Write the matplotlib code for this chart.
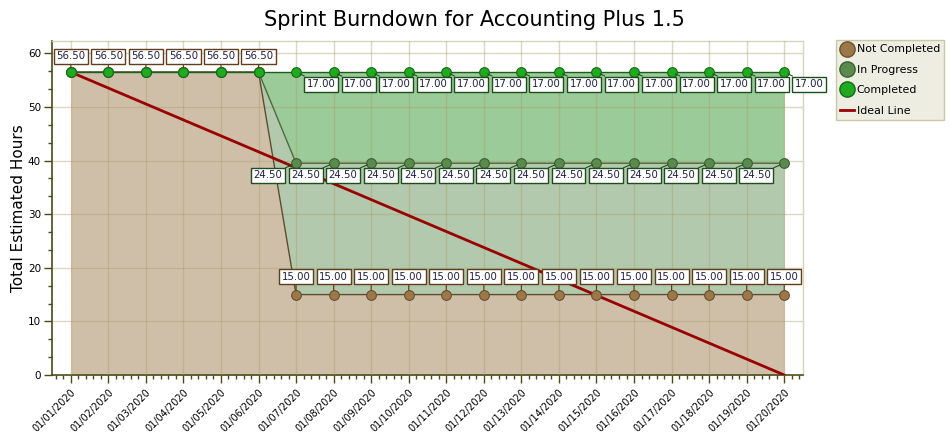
import matplotlib
matplotlib.use("Agg")
import matplotlib.pyplot as plt
from matplotlib.lines import Line2D
from matplotlib.ticker import AutoMinorLocator, MultipleLocator
import numpy as np

# sprint days
dates = ["01/%02d/2020" % d for d in range(1, 21)]

# hours per status
not_completed = [56.5] * 6 + [15.0] * 14
in_progress = [0.0] * 6 + [24.5] * 14
completed = [0.0] * 6 + [17.0] * 14

# ideal burndown (first day -> last day)
ideal_hours = [56.5, 0.0]

x = np.arange(len(dates))
nc = np.array(not_completed)
ip = nc + np.array(in_progress)
cp = ip + np.array(completed)

fig = plt.figure(figsize=(9.51, 4.40), dpi=100)
ax = fig.add_axes([52 / 951, 1 - 375 / 440, 751 / 951, 334 / 440])

ax.fill_between(x, 0, nc, color="#cfbfa9", zorder=1, lw=0)
ax.fill_between(x, nc, ip, color="#b3c9ad", zorder=1, lw=0)
ax.fill_between(x, ip, cp, color="#9acb98", zorder=1, lw=0)

ax.grid(True, which="major", color="#a89c6a", alpha=0.4, lw=1, zorder=2)
ax.set_axisbelow(False)

ax.plot(x, nc, color="#5e4a2c", lw=1, zorder=3)
ax.plot(x, ip, color="#4c6a3c", lw=1, zorder=3)
ax.plot(x, cp, color="#1d5e1d", lw=1, zorder=3)

ax.plot([x[0], x[-1]], ideal_hours, color="#990000", lw=2, zorder=4)

ax.plot(x, nc, "o", ms=7, mfc="#9c7748", mec="#6b5030", mew=0.8, zorder=5)
ax.plot(x, ip, "o", ms=7, mfc="#5a8a4e", mec="#3d5f34", mew=0.8, zorder=5)
ax.plot(x, cp, "o", ms=7, mfc="#1faa1f", mec="#146b14", mew=0.8, zorder=6)

text_col = "#1e1e40"


def label(xi, yi, val, dx, dy, edge):
    ax.annotate("%.2f" % val, xy=(xi, yi), xytext=(dx, dy), textcoords="offset pixels",
                ha="center", va="center", fontsize=7.3, color=text_col,
                bbox=dict(boxstyle="square,pad=0.25", fc="white", ec=edge, lw=1),
                arrowprops=dict(arrowstyle="-", color=edge, lw=0.8, shrinkA=0, shrinkB=3),
                zorder=7, annotation_clip=False)


for i in range(len(dates)):
    label(x[i], nc[i], not_completed[i], 0, 16 if i < 6 else 18, "#5e3e1e")
    if in_progress[i] > 0:
        label(x[i], ip[i], in_progress[i], -28, -12, "#1e4e1e")
    if completed[i] > 0:
        label(x[i], cp[i], completed[i], 25, -12, "#1e4e1e")

ax.set_xlim(-0.5, 19.5)
ax.set_ylim(0, 62.3)
ax.set_xticks(x)
ax.set_xticklabels(dates, rotation=45, ha="right", rotation_mode="anchor", fontsize=7)
ax.xaxis.set_minor_locator(AutoMinorLocator(5))
ax.yaxis.set_major_locator(MultipleLocator(10))
ax.yaxis.set_minor_locator(AutoMinorLocator(3))
ax.tick_params(axis="both", which="major", length=6, width=1, color="#4a4a1a", labelsize=7.5, pad=2)
ax.tick_params(axis="x", which="major", labelsize=7, pad=3)
ax.tick_params(axis="both", which="minor", length=3, width=1, color="#4a4a1a")

for s in ["left", "bottom"]:
    ax.spines[s].set_color("#4a4a1a")
    ax.spines[s].set_linewidth(1.2)
for s in ["right", "top"]:
    ax.spines[s].set_color("#d6d6b8")
    ax.spines[s].set_linewidth(1)

ax.set_ylabel("Total Estimated Hours", fontsize=11)
ax.yaxis.set_label_coords(-26 / 751, 0.5)
fig.text(474 / 951, 1 - 20 / 440, "Sprint Burndown for Accounting Plus 1.5",
         ha="center", va="center", fontsize=15)

handles = [
    Line2D([], [], ls="none", marker="o", ms=11, mfc="#9c7748", mec="#6b5030"),
    Line2D([], [], ls="none", marker="o", ms=11, mfc="#5a8a4e", mec="#3d5f34"),
    Line2D([], [], ls="none", marker="o", ms=11, mfc="#1faa1f", mec="#146b14"),
    Line2D([], [], color="#990000", lw=2),
]
leg = fig.legend(handles, ["Not Completed", "In Progress", "Completed", "Ideal Line"],
                 loc="upper left", bbox_to_anchor=(836 / 951, 1 - 40 / 440),
                 fontsize=7.9, frameon=True, fancybox=False, handlelength=1.2,
                 handletextpad=0.3, borderpad=0.4, labelspacing=0.95, borderaxespad=0)
leg.get_frame().set_facecolor("#eeede2")
leg.get_frame().set_edgecolor("#c8c8a8")
leg.get_frame().set_alpha(1)

fig.savefig("out.png", dpi=100)
